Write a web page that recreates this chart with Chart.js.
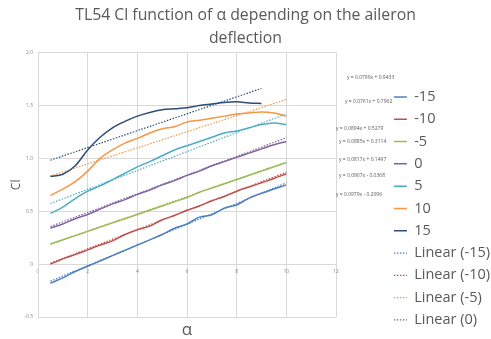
<!DOCTYPE html>
<html>
<head>
<meta charset="utf-8">
<script src="https://cdn.jsdelivr.net/npm/chart.js@4.4.1/dist/chart.umd.min.js"></script>
<style>
  html, body { margin: 0; padding: 0; background: #fff; }
  #chart { display: block; }
</style>
</head>
<body>
<canvas id="chart" width="491" height="339"></canvas>
<script>
// angle of attack (deg)
const alpha = [0.5, 1, 1.5, 2, 2.5, 3, 3.5, 4, 4.5, 5, 5.5, 6, 6.5, 7, 7.5, 8, 8.5, 9, 9.5, 10]
const alpha15 = [0.5, 1, 1.5, 2, 2.5, 3, 3.5, 4, 4.5, 5, 5.5, 6, 6.5, 7, 7.5, 8, 8.5, 9]

// Cl per aileron deflection
const clM15 = [-0.18, -0.13, -0.07, -0.02, 0.03, 0.08, 0.13, 0.18, 0.23, 0.28, 0.34, 0.38, 0.445, 0.467, 0.53, 0.56, 0.625, 0.67, 0.71, 0.75]
const clM10 = [0.0, 0.05, 0.09, 0.135, 0.18, 0.22, 0.28, 0.325, 0.36, 0.42, 0.46, 0.51, 0.55, 0.6, 0.64, 0.69, 0.73, 0.77, 0.81, 0.855]
const clM5 = [0.19, 0.23, 0.27, 0.31, 0.35, 0.39, 0.43, 0.47, 0.51, 0.55, 0.59, 0.63, 0.68, 0.72, 0.76, 0.8, 0.84, 0.88, 0.92, 0.96]
const cl0 = [0.34, 0.38, 0.43, 0.47, 0.52, 0.57, 0.61, 0.66, 0.7, 0.75, 0.79, 0.84, 0.88, 0.93, 0.97, 1.01, 1.05, 1.09, 1.13, 1.16]
const cl5 = [0.48, 0.54, 0.62, 0.69, 0.74, 0.8, 0.86, 0.92, 0.97, 1.025, 1.08, 1.12, 1.16, 1.2, 1.24, 1.26, 1.29, 1.32, 1.335, 1.32]
const cl10 = [0.65, 0.71, 0.78, 0.88, 1.0, 1.08, 1.145, 1.19, 1.24, 1.28, 1.3, 1.345, 1.36, 1.38, 1.4, 1.42, 1.43, 1.44, 1.43, 1.4]
const cl15 = [0.83, 0.85, 0.93, 1.08, 1.2, 1.29, 1.35, 1.4, 1.435, 1.46, 1.47, 1.48, 1.5, 1.515, 1.53, 1.535, 1.525, 1.52]

// linear trendline end points
const trendX = [0.5, 10]
const trendX15 = [0.5, 9]
const trendM15 = [-0.161, 0.769]
const trendM10 = [0.009, 0.870]
const trendM5 = [0.190, 0.966]
const trend0 = [0.356, 1.196]
const trend5 = [0.573, 1.422]
const trend10 = [0.834, 1.557]
const trend15 = [0.983, 1.662]

const seriesNames = ["-15", "-10", "-5", "0", "5", "10", "15"]
const equations = [
  "y = 0.0799x + 0.9433",
  "y = 0.0761x + 0.7962",
  "y = 0.0894x + 0.5279",
  "y = 0.0885x + 0.3114",
  "y = 0.0817x + 0.1497",
  "y = 0.0907x - 0.0368",
  "y = 0.0979x - 0.2096"
]

const xTicks = [0, 2, 4, 6, 8, 10, 12]
const yTicks = [-0.5, 0, 0.5, 1, 1.5, 2]

const colors = ["#4f81bd", "#c0504d", "#9bbb59", "#8064a2", "#4bacc6", "#f79646", "#2c4d75"]
const textColor = "#595959"
const font = "'Open Sans', sans-serif"

const pts = (xs, ys) => ys.map((y, i) => ({ x: xs[i], y: y }))

const curves = [clM15, clM10, clM5, cl0, cl5, cl10, cl15]
const curveX = [alpha, alpha, alpha, alpha, alpha, alpha, alpha15]
const trends = [trendM15, trendM10, trendM5, trend0, trend5, trend10, trend15]
const trendXs = [trendX, trendX, trendX, trendX, trendX, trendX, trendX15]

const datasets = []
curves.forEach((c, i) => {
  datasets.push({
    label: seriesNames[i],
    data: pts(curveX[i], c),
    borderColor: colors[i],
    backgroundColor: colors[i],
    borderWidth: 1.5,
    pointRadius: 0,
    cubicInterpolationMode: "monotone",
    fill: false
  })
})
trends.forEach((t, i) => {
  datasets.push({
    label: "Linear (" + seriesNames[i] + ")",
    data: pts(trendXs[i], t),
    borderColor: colors[i],
    backgroundColor: colors[i],
    borderWidth: 1.2,
    borderDash: [1.5, 1.5],
    pointRadius: 0,
    fill: false
  })
})

// legend is as wide as its longest entry, so its text ends at the right edge
const legendFontSize = 14.5
const legendPad = 7.8
const legendBox = 13
const measure = document.createElement("canvas").getContext("2d")
measure.font = legendFontSize + "px " + font
const legendWidth = legendPad + legendBox + legendFontSize / 2 + measure.measureText("Linear (-15)").width + 1

// trendline equations next to the plot
const equationLabels = {
  id: "equationLabels",
  afterDraw(chart) {
    const ctx = chart.ctx
    const spots = [[347, 78], [345, 102], [336, 129], [339, 142], [339, 160], [339, 176], [336, 195]]
    ctx.save()
    ctx.font = "5px " + font
    ctx.fillStyle = textColor
    ctx.textBaseline = "middle"
    equations.forEach((e, i) => ctx.fillText(e, spots[i][0], spots[i][1]))
    ctx.restore()
  }
}

const grid = { color: "#d9d9d9", lineWidth: 1, drawTicks: false }

new Chart(document.getElementById("chart"), {
  type: "line",
  data: { datasets: datasets },
  plugins: [equationLabels],
  options: {
    responsive: false,
    animation: false,
    layout: { padding: 0 },
    plugins: {
      tooltip: { enabled: false },
      title: {
        display: true,
        text: ["TL54 Cl function of \u03b1 depending on the aileron", "deflection"],
        color: textColor,
        font: { family: font, size: 15.8, weight: "normal", lineHeight: "23px" },
        padding: { top: 3.5, bottom: 3.2 }
      },
      legend: {
        position: "right",
        align: "start",
        fullSize: true,
        maxWidth: legendWidth,
        title: { display: true, text: "", font: { size: 10, lineHeight: 1.2 }, padding: { top: 69.9, bottom: 0 } },
        labels: {
          usePointStyle: true,
          pointStyle: "line",
          pointStyleWidth: legendBox,
          padding: legendPad,
          color: textColor,
          font: { family: font, size: legendFontSize },
          filter: (item) => item.datasetIndex < 11,
          generateLabels: (chart) => {
            const items = Chart.defaults.plugins.legend.labels.generateLabels(chart)
            items.forEach(it => {
              const ds = chart.data.datasets[it.datasetIndex]
              it.lineDash = ds.borderDash || []
              it.lineWidth = ds.borderWidth
              it.strokeStyle = ds.borderColor
            })
            return items
          }
        }
      }
    },
    scales: {
      x: {
        type: "linear",
        position: { y: 0 },
        min: 0,
        max: 12,
        afterBuildTicks: (s) => { s.ticks = xTicks.map(v => ({ value: v })) },
        afterFit: (s) => { s.height = 0 },
        grid: grid,
        border: { color: "#d9d9d9" },
        ticks: { color: "#888", font: { family: font, size: 5 }, padding: 4 }
      },
      x2: {
        type: "linear",
        position: "bottom",
        afterFit: (s) => { s.height = 22 },
        grid: { display: false },
        border: { display: false },
        ticks: { display: false },
        title: { display: true, text: "\u03b1", color: textColor, font: { family: font, size: 17, lineHeight: 1 }, padding: { top: 0, bottom: 0.5 } }
      },
      y: {
        type: "linear",
        min: -0.5,
        max: 2,
        afterBuildTicks: (s) => { s.ticks = yTicks.map(v => ({ value: v })) },
        afterFit: (s) => { s.width = 38 },
        grid: grid,
        border: { color: "#d9d9d9" },
        ticks: { color: "#888", font: { family: font, size: 5 }, padding: 5 },
        title: { display: true, text: "Cl", color: textColor, font: { family: font, size: 12 }, padding: { top: 9.5, bottom: 0 } }
      },
      y2: {
        type: "linear",
        position: "right",
        afterFit: (s) => { s.width = 491 - s.chart.legend.width - 336 },
        grid: { display: false },
        border: { display: false },
        ticks: { display: false }
      }
    }
  }
})
</script>
</body>
</html>
